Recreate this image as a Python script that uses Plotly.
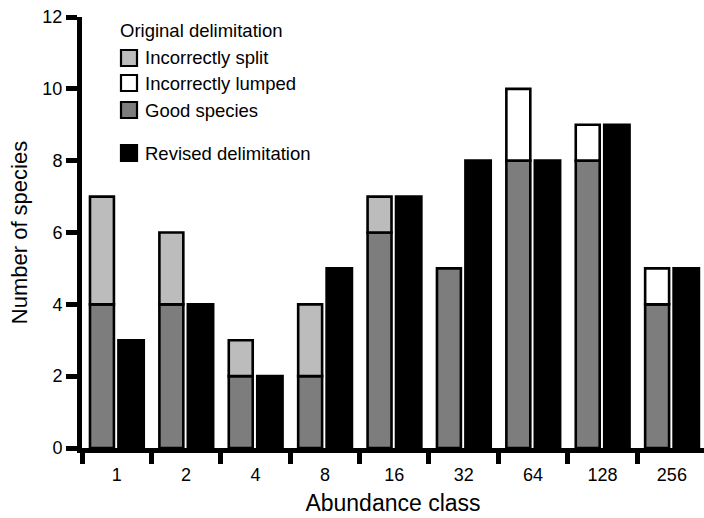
import plotly.graph_objects as go

# ---- data ----
classes = ["1", "2", "4", "8", "16", "32", "64", "128", "256"]
good_species = [4, 4, 2, 2, 6, 5, 8, 8, 4]
incorrectly_split = [3, 2, 1, 2, 1, 0, 0, 0, 0]
incorrectly_lumped = [0, 0, 0, 0, 0, 0, 2, 1, 1]
revised = [3, 4, 2, 5, 7, 8, 8, 9, 5]
y_ticks = [0, 2, 4, 6, 8, 10, 12]

FONT = "Liberation Sans, Arial, Helvetica, sans-serif"
W, H = 704, 518
ML, MR, MT, MB = 82, 0, 17, 70

C_GOOD = "#7d7d7d"
C_SPLIT = "#bcbcbc"
C_LUMP = "#ffffff"
C_REV = "#000000"

def nz(v):
    return [x if x else None for x in v]

base_split = good_species
base_lump = [g + s for g, s in zip(good_species, incorrectly_split)]

OFF_ORIG, W_ORIG = -0.385, 0.345
OFF_REV, W_REV = 0.025, 0.365
LINE = dict(color="black", width=2.6)

fig = go.Figure()
fig.add_trace(go.Bar(x=classes, y=good_species, base=[0] * len(classes),
                     offset=OFF_ORIG, width=W_ORIG, name="Good species",
                     marker=dict(color=C_GOOD, line=LINE)))
fig.add_trace(go.Bar(x=classes, y=nz(incorrectly_split), base=base_split,
                     offset=OFF_ORIG, width=W_ORIG, name="Incorrectly split",
                     marker=dict(color=C_SPLIT, line=LINE)))
fig.add_trace(go.Bar(x=classes, y=nz(incorrectly_lumped), base=base_lump,
                     offset=OFF_ORIG, width=W_ORIG, name="Incorrectly lumped",
                     marker=dict(color=C_LUMP, line=LINE)))
fig.add_trace(go.Bar(x=classes, y=revised, base=[0] * len(classes),
                     offset=OFF_REV, width=W_REV, name="Revised delimitation",
                     marker=dict(color=C_REV, line=LINE)))

# ---- manual legend (pixel positions -> paper coords) ----
PW, PH = W - ML - MR, H - MT - MB
def px(x):
    return (x - ML) / PW
def py(y):
    return 1 - (y - MT) / PH

shapes = []
annotations = []
annotations.append(dict(text="Original delimitation", x=px(118), y=py(31),
                        xref="paper", yref="paper", xanchor="left", yanchor="middle",
                        showarrow=False, font=dict(size=18.5, color="black", family=FONT)))
legend_items = [("Incorrectly split", C_SPLIT, 58),
                ("Incorrectly lumped", C_LUMP, 83),
                ("Good species", C_GOOD, 110),
                ("Revised delimitation", C_REV, 153)]
for label, col, yc in legend_items:
    shapes.append(dict(type="rect", xref="paper", yref="paper",
                       x0=px(121), x1=px(137), y0=py(yc - 8), y1=py(yc + 8),
                       fillcolor=col, line=dict(color="black", width=2.2)))
    annotations.append(dict(text=label, x=px(143), y=py(yc),
                            xref="paper", yref="paper", xanchor="left", yanchor="middle",
                            showarrow=False, font=dict(size=18.5, color="black", family=FONT)))

fig.update_layout(
    width=W, height=H,
    margin=dict(l=ML, r=MR, t=MT, b=MB, pad=0),
    paper_bgcolor="white", plot_bgcolor="white",
    barmode="overlay",
    showlegend=False,
    font=dict(family=FONT, color="black", size=18),
    shapes=shapes,
    annotations=annotations,
)
fig.update_xaxes(
    type="category", categoryorder="array", categoryarray=classes,
    range=[-0.5, 8.463], tickson="boundaries",
    ticks="outside", ticklen=11, tickwidth=5, tickcolor="black",
    showline=True, linewidth=5, linecolor="black",
    showgrid=False, zeroline=False,
    tickfont=dict(size=18, family=FONT), ticklabelstandoff=6,
    title=dict(text="Abundance class", font=dict(size=23, family=FONT), standoff=13),
    automargin=False,
)
fig.update_yaxes(
    range=[0, 12], tickvals=y_ticks, ticktext=[str(v) for v in y_ticks],
    ticks="outside", ticklen=11, tickwidth=5, tickcolor="black",
    showline=True, linewidth=5, linecolor="black",
    showgrid=False, zeroline=False,
    tickfont=dict(size=18, family=FONT),
    title=dict(text="Number of species", font=dict(size=22, family=FONT), standoff=10),
    automargin=False,
)

fig.write_html(
    "out.html",
    config={"displayModeBar": False},
    post_script="document.body.style.margin='0px';document.body.style.overflow='hidden';",
)
